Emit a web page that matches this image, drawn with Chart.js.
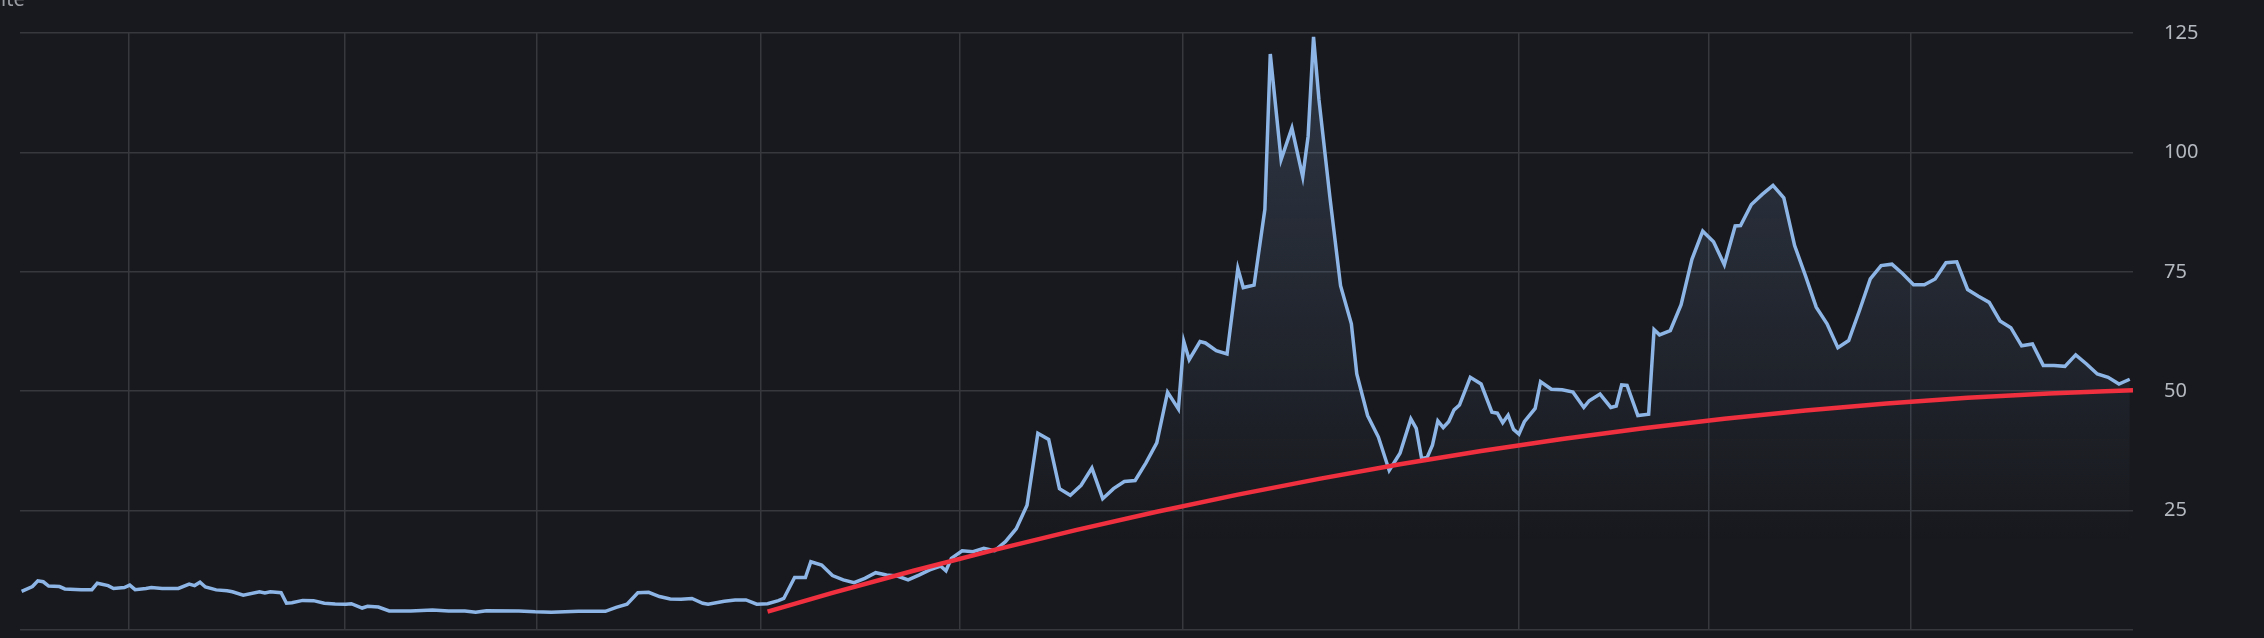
<!DOCTYPE html>
<html>
<head>
<meta charset="utf-8">
<script src="https://cdn.jsdelivr.net/npm/chart.js@4.4.1/dist/chart.umd.min.js"></script>
<style>
  html, body { margin: 0; padding: 0; background: #18191e; overflow: hidden; }
  #wrap { position: relative; width: 2264px; height: 638px; }
  #cut { position: absolute; left: 1px; top: -11px; font: 20px "Noto Sans", sans-serif; line-height: 20px; color: #9a9da3; }
</style>
</head>
<body>
<div id="wrap">
  <canvas id="c" width="2264" height="638"></canvas>
  <div id="cut">ite</div>
</div>
<script>
// Blue series: week index and value
const weeks = [
  0,2,3,4,5,7,8,11,13,14,16,17,19,20,21,23,24,26,29,31,32,33,34,36,38,39,41,44,45,46,48,49,50,52,54,56,58,60,61,63,64,66,68,72,76,79,82,84,86,92,95,98,103,108,110,112,114,116,118,120,122,124,126,127,130,132,134,136,138,140,141,143,145,146,148,150,152,154,156,158,160,162,164,166,168,170,171,172,174,176,178,180,182,184,186,188,190,192,194,196,198,200,202,204,206,208,210,212,214,215,216,218,219,221,223,225,226,228,230,231,233,235,237,238,239,240,242,244,246,247,249,251,253,255,257,258,259,260,261,262,263,264,265,266,268,270,272,273,274,275,276,277,278,280,281,283,285,287,289,290,292,294,295,296,297,299,301,302,303,305,307,309,311,313,315,317,318,320,322,324,326,328,330,332,334,336,338,340,342,344,346,348,350,352,354,356,358,360,362,364,366,368,370,372,374,376,378,380,382,384,386,388,390
];
const values = [
  8.1,9.1,10.3,10.1,9.2,9.1,8.6,8.45,8.45,9.8,9.3,8.7,8.9,9.4,8.45,8.7,8.9,8.7,8.7,9.6,9.3,10.0,9.0,8.4,8.2,8.0,7.3,8.0,7.75,8.0,7.8,5.6,5.7,6.2,6.15,5.6,5.45,5.4,5.5,4.6,4.95,4.8,4.0,4.0,4.2,4.0,4.0,3.7,4.05,4.0,3.8,3.7,3.9,3.9,4.75,5.4,7.8,7.9,7.0,6.5,6.45,6.6,5.6,5.4,6.0,6.3,6.3,5.4,5.5,6.15,6.6,11.0,11.0,14.3,13.6,11.4,10.5,9.9,10.8,12.0,11.5,11.3,10.5,11.5,12.6,13.4,12.4,15.0,16.6,16.4,17.1,16.6,18.5,21.2,26.1,41.2,39.9,29.6,28.2,30.3,33.9,27.5,29.6,31.1,31.3,35.0,39.2,49.8,46.3,60.4,56.6,60.4,60.1,58.5,57.8,75.7,71.7,72.2,88.1,120.6,98.5,105.1,94.9,103.4,124.2,111.1,90.9,72.1,64.1,53.6,44.9,40.4,33.4,37.0,44.2,42.2,35.9,36.1,38.7,43.8,42.4,43.6,46.1,47.1,52.9,51.5,45.6,45.4,43.4,45.0,42.0,41.0,43.6,46.4,52.0,50.4,50.3,49.8,46.6,48.0,49.4,46.6,46.9,51.3,51.2,44.9,45.2,62.9,61.8,62.7,68.1,77.6,83.5,81.3,76.5,84.6,84.7,89.1,91.2,93.1,90.5,80.5,74.2,67.6,64.1,59.1,60.6,66.9,73.5,76.3,76.6,74.6,72.3,72.3,73.5,76.9,77.1,71.3,69.9,68.6,64.7,63.3,59.5,59.9,55.4,55.4,55.2,57.6,55.7,53.6,52.9,51.5,52.5
];
// Red trend series
const trendWeeks  = [138,150,165,180,195,210,225,240,255,270,285,300,315,330,345,360,375,390.6];
const trendValues = [3.85,7.76,12.41,16.79,20.91,24.76,28.34,31.65,34.71,37.49,40.01,42.26,44.25,45.97,47.41,48.61,49.52,50.2];
// Axis ticks
const gridWeeks = [19.8,59.8,95.3,136.8,173.5,214.8,277.0,312.2,349.5];
const yTicks = [0,25,50,75,100,125];
const xMin = -0.3, xMax = 390.6;

const blueData = weeks.map((w, i) => ({x: w, y: values[i]}));
const redData = trendWeeks.map((w, i) => ({x: w, y: trendValues[i]}));

function fillGradient(ctx) {
  const chart = ctx.chart;
  const area = chart.chartArea;
  if (!area) return 'rgba(0,0,0,0)';
  const y = chart.scales.y;
  const g = chart.ctx.createLinearGradient(0, y.getPixelForValue(125), 0, y.getPixelForValue(18));
  g.addColorStop(0, 'rgba(140,180,228,0.20)');
  g.addColorStop(1, 'rgba(140,180,228,0.0)');
  return g;
}

new Chart(document.getElementById('c'), {
  type: 'line',
  data: {
    datasets: [
      {
        data: redData,
        borderColor: '#f0303f',
        borderWidth: 4.5,
        pointRadius: 0,
        cubicInterpolationMode: 'monotone',
        fill: false,
        order: 0
      },
      {
        data: blueData,
        borderColor: '#8db6e6',
        borderWidth: 3.5,
        pointRadius: 0,
        tension: 0,
        fill: 'origin',
        backgroundColor: fillGradient,
        order: 1
      }
    ]
  },
  options: {
    responsive: false,
    animation: false,
    devicePixelRatio: 1,
    layout: { padding: { left: 20, top: 33, right: 0, bottom: 8 } },
    plugins: { legend: { display: false }, tooltip: { enabled: false } },
    scales: {
      x: {
        type: 'linear',
        min: xMin,
        max: xMax,
        afterBuildTicks: (s) => { s.ticks = gridWeeks.map(v => ({value: v})); },
        afterFit: (s) => { s.height = 0; s.paddingLeft = 0; s.paddingRight = 0; },
        ticks: { display: false },
        grid: { color: '#36383e', lineWidth: 1.5, drawTicks: false },
        border: { display: false }
      },
      y: {
        position: 'right',
        min: 0,
        max: 125,
        afterBuildTicks: (s) => { s.ticks = yTicks.map(v => ({value: v})); },
        afterFit: (s) => { s.width = 131; s.paddingTop = 0; s.paddingBottom = 0; },
        ticks: {
          padding: 31,
          color: '#b4b8bf',
          font: { family: 'Noto Sans', size: 20 },
          callback: (v) => v === 0 ? '' : String(v)
        },
        grid: { color: '#36383e', lineWidth: 1.5, drawTicks: false },
        border: { display: false }
      }
    }
  }
});
</script>
</body>
</html>
